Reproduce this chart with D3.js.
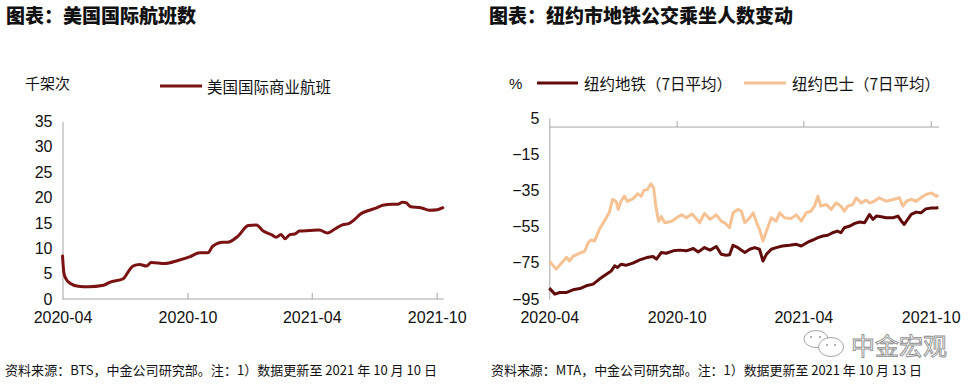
<!DOCTYPE html>
<html>
<head>
<meta charset="utf-8">
<script src="https://cdn.jsdelivr.net/npm/d3@7/dist/d3.min.js"></script>
<style>
  html, body { margin: 0; padding: 0; background: #fff; }
  svg { display: block; font-family: "Liberation Sans", Arial, "Noto Sans CJK SC", sans-serif; }
</style>
</head>
<body>
<svg id="chart" width="977" height="387"></svg>
<script>
// ---------- DATA ----------
const xTickLabels = ["2020-04", "2020-10", "2021-04", "2021-10"];
const flightTicks = [0, 5, 10, 15, 20, 25, 30, 35];
const transitTicks = [5, -15, -35, -55, -75, -95];

const flightDates = ["2020-04-01","2020-04-03","2020-04-06","2020-04-12","2020-04-24","2020-05-09","2020-05-31","2020-06-09","2020-06-29","2020-07-06","2020-07-13","2020-07-23","2020-08-02","2020-08-09","2020-08-29","2020-09-17","2020-10-04","2020-10-19","2020-10-31","2020-11-07","2020-11-22","2020-11-29","2020-12-14","2020-12-29","2021-01-10","2021-01-20","2021-02-01","2021-02-08","2021-02-15","2021-02-21","2021-02-28","2021-03-07","2021-03-14","2021-03-29","2021-04-12","2021-04-24","2021-05-06","2021-05-16","2021-05-26","2021-06-02","2021-06-12","2021-06-22","2021-07-04","2021-07-14","2021-07-28","2021-08-05","2021-08-12","2021-08-17","2021-08-24","2021-09-08","2021-09-20","2021-10-02","2021-10-10"];
const flightValues = [8.5,5.2,4.0,3.1,2.5,2.4,2.7,3.3,4.0,5.3,6.5,6.8,6.5,7.2,7.0,7.6,8.3,9.1,9.1,10.4,11.2,11.2,12.4,14.5,14.6,13.4,12.7,12.2,12.7,11.9,12.7,12.8,13.4,13.5,13.6,13.0,13.9,14.6,14.9,15.6,16.8,17.4,17.9,18.5,18.7,18.7,19.1,19.0,18.2,18.0,17.5,17.6,18.0];

const subwayDates = ["2020-04-01","2020-04-09","2020-04-16","2020-04-26","2020-05-05","2020-05-15","2020-05-24","2020-06-03","2020-06-12","2020-06-22","2020-06-29","2020-07-04","2020-07-08","2020-07-13","2020-07-20","2020-07-30","2020-08-09","2020-08-19","2020-08-28","2020-09-02","2020-09-09","2020-09-16","2020-09-26","2020-10-05","2020-10-15","2020-10-25","2020-11-01","2020-11-10","2020-11-18","2020-11-27","2020-12-04","2020-12-11","2020-12-16","2020-12-21","2020-12-28","2020-12-31","2021-01-07","2021-01-14","2021-01-21","2021-01-28","2021-02-02","2021-02-07","2021-02-14","2021-02-21","2021-03-02","2021-03-12","2021-03-22","2021-03-29","2021-04-08","2021-04-15","2021-04-22","2021-04-29","2021-05-06","2021-05-13","2021-05-20","2021-05-25","2021-05-30","2021-06-07","2021-06-14","2021-06-21","2021-06-28","2021-07-05","2021-07-10","2021-07-15","2021-07-22","2021-07-29","2021-08-08","2021-08-15","2021-08-20","2021-08-24","2021-08-29","2021-09-03","2021-09-10","2021-09-17","2021-09-24","2021-10-02","2021-10-09","2021-10-12"];
const subwayValues = [-89,-92.3,-91.4,-91.4,-89.9,-89.2,-87.7,-86.8,-84,-81.3,-79.5,-76.7,-77.6,-75.8,-76.4,-75.2,-73.4,-72.1,-71.5,-73,-69.3,-69.7,-68.4,-68,-68.4,-67.1,-69,-66.6,-68,-66,-70.3,-70.8,-70.5,-65.3,-66.6,-67.5,-69.3,-67.5,-66.6,-67.5,-74,-70.3,-67.5,-66.6,-65.7,-65.3,-64.8,-65.7,-63.5,-62.4,-61.1,-60.2,-59.8,-58.4,-57.5,-58.4,-55.6,-54.7,-53.2,-52.5,-52.9,-48.3,-51,-49.2,-49.6,-50.1,-50.1,-49.2,-52,-53.8,-51,-48.3,-47,-47.4,-45.2,-44.7,-44.7,-44.5];

const busDates = ["2020-04-01","2020-04-11","2020-04-21","2020-04-26","2020-04-30","2020-05-05","2020-05-15","2020-05-22","2020-05-27","2020-05-31","2020-06-05","2020-06-12","2020-06-19","2020-06-26","2020-07-01","2020-07-06","2020-07-09","2020-07-13","2020-07-18","2020-07-22","2020-07-30","2020-08-06","2020-08-11","2020-08-15","2020-08-20","2020-08-25","2020-08-29","2020-09-01","2020-09-05","2020-09-09","2020-09-14","2020-09-24","2020-10-01","2020-10-08","2020-10-15","2020-10-23","2020-10-30","2020-11-03","2020-11-10","2020-11-18","2020-11-27","2020-12-04","2020-12-09","2020-12-16","2020-12-21","2020-12-28","2021-01-02","2021-01-07","2021-01-14","2021-01-19","2021-01-24","2021-01-28","2021-02-02","2021-02-07","2021-02-14","2021-02-21","2021-02-26","2021-03-05","2021-03-14","2021-03-22","2021-03-29","2021-04-05","2021-04-12","2021-04-17","2021-04-22","2021-04-26","2021-05-04","2021-05-11","2021-05-18","2021-05-25","2021-05-30","2021-06-04","2021-06-11","2021-06-16","2021-06-23","2021-06-30","2021-07-05","2021-07-12","2021-07-19","2021-07-29","2021-08-08","2021-08-17","2021-08-22","2021-08-27","2021-09-03","2021-09-10","2021-09-17","2021-09-24","2021-10-02","2021-10-09","2021-10-12"];
const busValues = [-74,-78.5,-74,-72,-74,-71.5,-69.7,-68.5,-63.8,-62.4,-63,-56.5,-52,-47.4,-40,-41,-45.5,-41,-38.2,-41,-39.7,-36.8,-38.2,-35,-34.5,-31.3,-33.7,-43.7,-52,-49.5,-52.9,-52,-50.1,-48.5,-50.1,-48,-51,-52.9,-47.6,-51,-48.5,-52,-52.9,-55.6,-47.4,-45.5,-46.5,-52.9,-50.1,-47.4,-52.9,-56.5,-63,-57.5,-50.1,-52,-47.4,-50.1,-50.6,-48.5,-52,-47.4,-46.5,-43.7,-38.2,-43.7,-42.8,-45.5,-41.9,-43.7,-46.5,-43.7,-42.8,-39.1,-41.9,-40.4,-41.9,-41,-39.1,-41,-40,-39.1,-43.7,-41,-40,-41,-39.1,-37.3,-36.4,-38.2,-37.5];

// ---------- SETUP ----------
const parse = d3.timeParse("%Y-%m-%d");
const parseM = d3.timeParse("%Y-%m");
const tickDates = xTickLabels.map(parseM);
const fmt = d3.timeFormat("%Y-%m");

const svg = d3.select("#chart");
const AX = "#a6a6a6";
const CJK = "\"Noto Sans CJK SC\", \"Liberation Sans\", sans-serif";

const cFlight = "#7b1214";
const cSubway = "#620b0b";
const cBus = "#f6c293";

// ---------- TITLES ----------
svg.append("text").attr("x", 6).attr("y", 23).text("图表：美国国际航班数")
  .style("font-family", CJK).style("font-size", "19px").style("font-weight", 900).attr("fill", "#111");
svg.append("text").attr("x", 489).attr("y", 23).text("图表：纽约市地铁公交乘坐人数变动")
  .style("font-family", CJK).style("font-size", "19px").style("font-weight", 900).attr("fill", "#111");

// ---------- LEFT CHART ----------
const xL = d3.scaleTime().domain([tickDates[0], tickDates[3]]).range([62.5, 436.7]);
const yL = d3.scaleLinear().domain([0, 35]).range([299, 121.5]);
const xLEnd = xL(parse("2021-10-11"));

// y axis
const gyL = svg.append("g").attr("transform", "translate(62.5,0)")
  .call(d3.axisLeft(yL).tickValues(flightTicks).tickSize(0).tickPadding(10).tickSizeOuter(0));
gyL.select(".domain").attr("stroke", AX);
gyL.selectAll("text").style("font-size", "16px").attr("fill", "#111");

// x axis line + inward ticks
const gxL = svg.append("g").attr("transform", "translate(0,299)")
  .call(d3.axisBottom(xL).tickValues(tickDates.slice(1)).tickSizeInner(-6).tickSizeOuter(0).tickFormat(""));
gxL.select(".domain").attr("d", `M62.5,0H${xLEnd}`).attr("stroke", AX);
gxL.selectAll(".tick line").attr("stroke", AX);
// labels
const gxLl = svg.append("g").attr("transform", "translate(0,312)")
  .call(d3.axisBottom(xL).tickValues(tickDates).tickSize(0).tickPadding(0).tickFormat(fmt));
gxLl.select(".domain").remove();
gxLl.selectAll("text").style("font-size", "16px").attr("fill", "#111");

// line
const flightData = flightDates.map((d, i) => ({ d: parse(d), v: flightValues[i] }));
svg.append("path").datum(flightData)
  .attr("fill", "none").attr("stroke", cFlight).attr("stroke-width", 3)
  .attr("stroke-linejoin", "round").attr("stroke-linecap", "round")
  .attr("d", d3.line().x(p => xL(p.d)).y(p => yL(p.v)).curve(d3.curveMonotoneX));

// unit + legend
svg.append("text").attr("x", 25).attr("y", 82).attr("dominant-baseline", "central")
  .text("千架次").style("font-family", CJK).style("font-size", "15px").attr("fill", "#111");
svg.append("line").attr("x1", 160).attr("x2", 202).attr("y1", 86).attr("y2", 86)
  .attr("stroke", cFlight).attr("stroke-width", 3);
svg.append("text").attr("x", 207).attr("y", 86).attr("dominant-baseline", "central")
  .text("美国国际商业航班").style("font-family", CJK).style("font-size", "15.5px").attr("fill", "#111");

// ---------- RIGHT CHART ----------
const xR = d3.scaleTime().domain([tickDates[0], tickDates[3]]).range([549.3, 930.7]);
const yR = d3.scaleLinear().domain([-95, 5]).range([299, 118]);
const xREnd = xR(parse("2021-10-13"));

const gyR = svg.append("g").attr("transform", "translate(549.3,0)")
  .call(d3.axisLeft(yR).tickValues(transitTicks).tickSize(0).tickPadding(10).tickSizeOuter(0));
gyR.select(".domain").attr("stroke", AX);
gyR.selectAll("text").style("font-size", "16px").attr("fill", "#111");

const gxR = svg.append("g").attr("transform", `translate(0,${yR(0)})`)
  .call(d3.axisBottom(xR).tickValues(tickDates.slice(1)).tickSizeInner(-6).tickSizeOuter(0).tickFormat(""));
gxR.select(".domain").attr("d", `M549.3,0H${xREnd}`).attr("stroke", AX);
gxR.selectAll(".tick line").attr("stroke", AX);
const gxRl = svg.append("g").attr("transform", "translate(0,312)")
  .call(d3.axisBottom(xR).tickValues(tickDates).tickSize(0).tickPadding(0).tickFormat(fmt));
gxRl.select(".domain").remove();
gxRl.selectAll("text").style("font-size", "16px").attr("fill", "#111");

const lineR = d3.line().x(p => xR(p.d)).y(p => yR(p.v));
const busData = busDates.map((d, i) => ({ d: parse(d), v: busValues[i] }));
const subwayData = subwayDates.map((d, i) => ({ d: parse(d), v: subwayValues[i] }));
svg.append("path").datum(busData)
  .attr("fill", "none").attr("stroke", cBus).attr("stroke-width", 3)
  .attr("stroke-linejoin", "round").attr("d", lineR);
svg.append("path").datum(subwayData)
  .attr("fill", "none").attr("stroke", cSubway).attr("stroke-width", 3)
  .attr("stroke-linejoin", "round").attr("d", lineR);

// unit + legend
svg.append("text").attr("x", 509).attr("y", 83).attr("dominant-baseline", "central")
  .text("%").style("font-size", "15px").attr("fill", "#111");
svg.append("line").attr("x1", 537).attr("x2", 578).attr("y1", 83).attr("y2", 83)
  .attr("stroke", cSubway).attr("stroke-width", 3);
svg.append("text").attr("x", 584).attr("y", 83).attr("dominant-baseline", "central")
  .text("纽约地铁（7日平均）").style("font-family", CJK).style("font-size", "15.5px").attr("fill", "#111");
svg.append("line").attr("x1", 744).attr("x2", 786).attr("y1", 83).attr("y2", 83)
  .attr("stroke", cBus).attr("stroke-width", 3);
svg.append("text").attr("x", 792).attr("y", 83).attr("dominant-baseline", "central")
  .text("纽约巴士（7日平均）").style("font-family", CJK).style("font-size", "15.5px").attr("fill", "#111");

// ---------- FOOTERS ----------
svg.append("text").attr("x", 5).attr("y", 369).attr("dominant-baseline", "central")
  .attr("textLength", 432).attr("lengthAdjust", "spacingAndGlyphs")
  .text("资料来源：BTS，中金公司研究部。注：1）数据更新至 2021 年 10 月 10 日")
  .style("font-family", CJK).style("font-size", "13px").attr("fill", "#111");
svg.append("text").attr("x", 491).attr("y", 369).attr("dominant-baseline", "central")
  .attr("textLength", 431).attr("lengthAdjust", "spacingAndGlyphs")
  .text("资料来源：MTA，中金公司研究部。注：1）数据更新至 2021 年 10 月 13 日")
  .style("font-family", CJK).style("font-size", "13px").attr("fill", "#111");

// ---------- WATERMARK ----------
const wm = svg.append("g").attr("fill", "#fff").attr("stroke", "#9a9a9a").attr("stroke-width", 0.9);
wm.append("ellipse").attr("cx", 816).attr("cy", 339).attr("rx", 12).attr("ry", 8.5);
wm.append("ellipse").attr("cx", 831).attr("cy", 347).attr("rx", 12.5).attr("ry", 9.5);
const eyes = [[811, 337], [820, 337], [827, 345], [835, 345]];
svg.append("g").selectAll("circle").data(eyes).join("circle")
  .attr("cx", d => d[0]).attr("cy", d => d[1]).attr("r", 1).attr("fill", "#9a9a9a");
svg.append("text").attr("x", 851).attr("y", 344).attr("dominant-baseline", "central")
  .text("中金宏观").style("font-family", CJK).style("font-size", "24px")
  .attr("fill", "#fff").attr("stroke", "#8f8f8f").attr("stroke-width", 0.9);
</script>
</body>
</html>
